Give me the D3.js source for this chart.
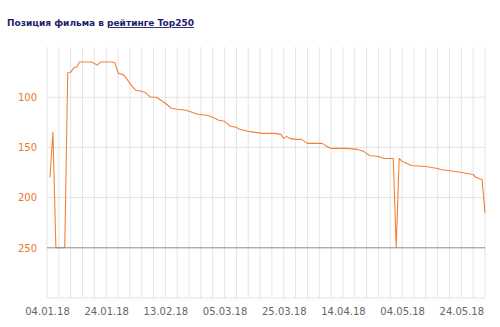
<!DOCTYPE html>
<html>
<head>
<meta charset="utf-8">
<script src="https://cdnjs.cloudflare.com/ajax/libs/d3/7.8.5/d3.min.js"></script>
<style>
  body { margin: 0; background: #fff; }
  #chart text { font-family: "DejaVu Sans", Verdana, sans-serif; }
</style>
</head>
<body>
<div id="chart"></div>
<script>
// chart data
var titleText = "Позиция фильма в ";
var titleLink = "рейтинге Top250";

var dates = ["2018-01-05", "2018-01-06", "2018-01-07", "2018-01-10", "2018-01-11", "2018-01-12",
    "2018-01-13", "2018-01-14", "2018-01-15", "2018-01-19", "2018-01-21", "2018-01-22",
    "2018-01-26", "2018-01-27", "2018-01-28", "2018-01-30", "2018-02-02", "2018-02-03",
    "2018-02-05", "2018-02-06", "2018-02-08", "2018-02-10", "2018-02-11", "2018-02-13",
    "2018-02-15", "2018-02-17", "2018-02-20", "2018-02-22", "2018-02-24", "2018-02-27",
    "2018-03-01", "2018-03-03", "2018-03-05", "2018-03-07", "2018-03-09", "2018-03-10",
    "2018-03-13", "2018-03-18", "2018-03-22", "2018-03-24", "2018-03-25", "2018-03-26",
    "2018-03-27", "2018-03-29", "2018-03-31", "2018-04-02", "2018-04-07", "2018-04-08",
    "2018-04-10", "2018-04-15", "2018-04-19", "2018-04-21", "2018-04-23", "2018-04-26",
    "2018-04-28", "2018-05-01", "2018-05-02", "2018-05-03", "2018-05-04", "2018-05-05",
    "2018-05-07", "2018-05-12", "2018-05-16", "2018-05-17", "2018-05-22", "2018-05-24",
    "2018-05-26", "2018-05-28", "2018-05-29", "2018-05-31", "2018-06-01"];
var ranks = [180, 135, 250, 250, 76, 75,
    71, 70, 65, 65, 68, 65,
    65, 66, 76, 78, 90, 93,
    94, 95, 100, 100, 102, 106,
    111, 112, 113, 115, 117, 118,
    120, 123, 124, 129, 130, 132,
    134, 136, 136, 137, 141, 139,
    141, 142, 142, 146, 146, 148,
    151, 151, 152, 154, 158, 159,
    161, 161, 250, 161, 164, 165,
    168, 169, 171, 172, 174, 175,
    176, 177, 180, 182, 215];

var yTicks = [100, 150, 200, 250];
var yGrid = [100, 150, 200, 300];
var cutoffRank = 250;
var xStart = "2018-01-04", xEnd = "2018-06-01";

// set the dimensions and margins of the graph
var margin = { top: 47, right: 15, bottom: 29, left: 47 },
    width = 500 - margin.left - margin.right,
    height = 327 - margin.top - margin.bottom;

var parse = d3.timeParse("%Y-%m-%d");
var fmt = d3.timeFormat("%d.%m.%y");

var data = dates.map(function (d, i) { return { date: parse(d), rank: ranks[i] }; });

var root = d3.select("#chart")
    .append("svg")
    .attr("width", 500)
    .attr("height", 327);

// title
var title = root.append("text")
    .attr("x", 7)
    .attr("y", 26)
    .style("font-size", "9px")
    .style("font-weight", "bold")
    .style("fill", "#1d1d6b");
title.append("tspan").text(titleText);
title.append("tspan").style("text-decoration", "underline").text(titleLink);

var svg = root.append("g")
    .attr("transform", "translate(" + margin.left + "," + margin.top + ")");

var x = d3.scaleTime()
    .domain([parse(xStart), parse(xEnd)])
    .range([0, width]);

var y = d3.scaleLinear()
    .domain([50, 300])
    .range([0, height]);

// vertical grid, every 4 days
var gridDays = d3.timeDays(parse(xStart), d3.timeDay.offset(parse(xEnd), 1)).filter(function (d, i) { return i % 4 == 0; });
svg.append("g")
    .selectAll("line")
    .data(gridDays)
    .enter()
    .append("line")
    .attr("x1", function (d) { return x(d); })
    .attr("x2", function (d) { return x(d); })
    .attr("y1", 0)
    .attr("y2", height)
    .style("stroke", "#e4e4e4")
    .style("stroke-width", 1);

// horizontal grid
svg.append("g")
    .selectAll("line")
    .data(yGrid)
    .enter()
    .append("line")
    .attr("x1", 0)
    .attr("x2", width)
    .attr("y1", function (d) { return y(d); })
    .attr("y2", function (d) { return y(d); })
    .style("stroke", "#e4e4e4")
    .style("stroke-width", 1);

// rank line
var line = d3.line()
    .x(function (d) { return x(d.date); })
    .y(function (d) { return y(d.rank); });

svg.append("path")
    .datum(data)
    .attr("d", line)
    .style("fill", "none")
    .style("stroke", "#f2813a")
    .style("stroke-width", 1.1)
    .style("stroke-linejoin", "round");

// Top250 cutoff line
svg.append("line")
    .attr("x1", 0)
    .attr("x2", width)
    .attr("y1", y(cutoffRank))
    .attr("y2", y(cutoffRank))
    .style("stroke", "#8a8a8a")
    .style("stroke-width", 1);

// Y axis labels
var yAxis = svg.append("g")
    .call(d3.axisLeft(y).tickValues(yTicks).tickSize(0).tickPadding(10));
yAxis.select(".domain").remove();
yAxis.selectAll("text")
    .style("font-size", "10px")
    .style("fill", "#e8782c");

// X axis labels, every 20 days
var labelDays = d3.timeDays(parse(xStart), parse(xEnd)).filter(function (d, i) { return i % 20 == 0; });
var xAxis = svg.append("g")
    .attr("transform", "translate(0," + height + ")")
    .call(d3.axisBottom(x).tickValues(labelDays).tickFormat(fmt).tickSize(0).tickPadding(10));
xAxis.select(".domain").remove();
xAxis.selectAll("text")
    .style("font-size", "10px")
    .style("fill", "#666");
</script>
</body>
</html>
